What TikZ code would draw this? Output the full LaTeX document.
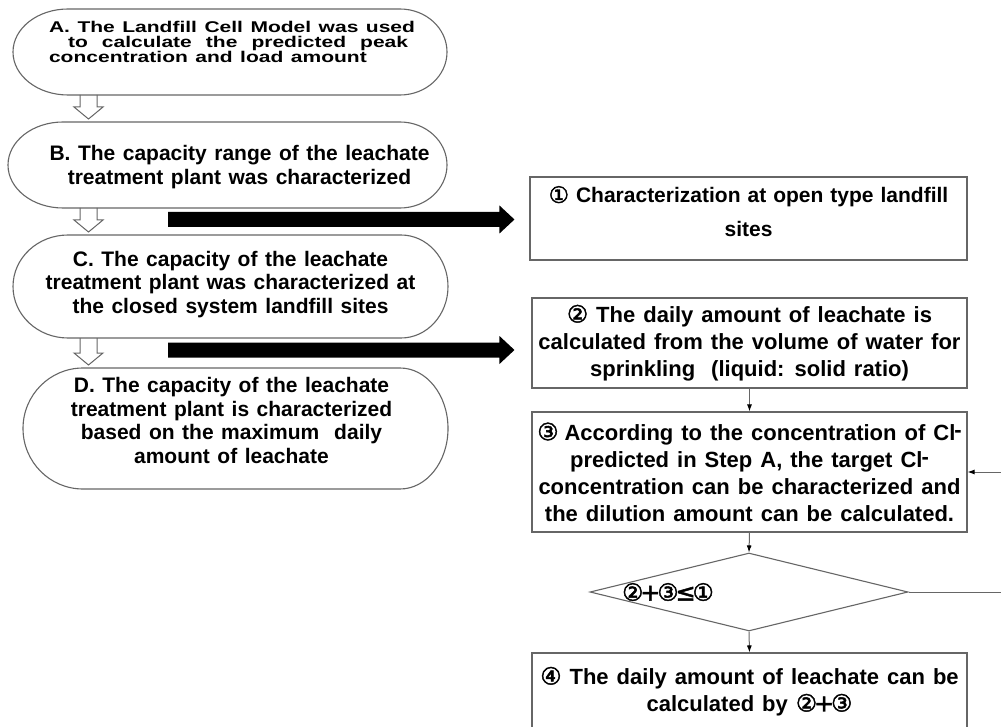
\documentclass[tikz,border=0pt]{standalone}
\usepackage{fontspec}
\usepackage{graphicx}
\setmainfont{Liberation Sans}
\newfontfamily\symfont{DejaVu Sans}[Scale=1.08,FakeBold=2]
\usetikzlibrary{arrows.meta,shapes.geometric,calc}
\newcommand\cn[1]{{\symfont\mdseries #1}}
\newcommand\clm{Cl\kern-1pt\raisebox{2.5pt}{-}}
\newcommand\lfont{\fontsize{21}{23.5}\selectfont\bfseries\spaceskip=7.5pt plus 3pt minus 1pt\relax}
\newcommand\rfont{\fontsize{22}{27}\selectfont\bfseries\spaceskip=8pt plus 3pt minus 1pt\relax}
\newcommand\rfontsmall{\fontsize{21}{27}\selectfont\bfseries\spaceskip=7pt plus 3pt minus 1pt\relax}
\newcommand\ovalpath[4]{%
  \draw[ovalline] ([xshift=#2]#1.north west) -- ([xshift=-#3]#1.north east)
    arc[start angle=90,end angle=-90,x radius=#3,y radius=#4]
    -- ([xshift=#2]#1.south west)
    arc[start angle=270,end angle=90,x radius=#2,y radius=#4] -- cycle;}
\newcommand\hollowdown[3]{%
  \filldraw[hollow] let \p1=(#1.south -| #3), \p2=(#2.north -| #3) in
   (\x1-8.5pt,\y1) -- (\x1-8.5pt,\y2+15pt) -- (\x1-14.5pt,\y2+15pt) -- (\x1,\y2+3pt)
   -- (\x1+14.5pt,\y2+15pt) -- (\x1+8.5pt,\y2+15pt) -- (\x1+8.5pt,\y1);}
\newcommand\bigarrow[2]{%
  \fill[black] let \p1=(#1), \p2=(#2) in
   (\x1,\y1+7.5pt) -- (\x2-15pt,\y1+7.5pt) -- (\x2-15pt,\y1+14pt) -- (\x2,\y1)
   -- (\x2-15pt,\y1-14pt) -- (\x2-15pt,\y1-7.5pt) -- (\x1,\y1-7.5pt) -- cycle;}
\tikzset{
  ovalline/.style={draw=black!60, line width=1.1pt},
  ovalnode/.style={rectangle, draw=none, inner sep=0pt, outer sep=0pt},
  ovtext/.style={align=center, inner sep=0pt, font=\lfont},
  hollow/.style={draw=black!60, fill=white, line width=1pt},
  boxstyle/.style={rectangle, draw=black!60, line width=1.1pt, inner sep=0pt,
    align=center, font=\rfont, minimum width=435pt},
  decision/.style={diamond, draw=black!60, line width=1.1pt, inner sep=0pt,
    minimum width=318pt, minimum height=78pt},
  conn/.style={draw=black!60, line width=1pt, -{Latex[length=7pt,width=5pt,color=black]}},
}
\begin{document}
\begin{tikzpicture}[x=1pt,y=-1pt]
\useasboundingbox (0,0) rectangle (1001,727);
\clip (0,0) rectangle (1001,727);
\fill[white] (0,0) rectangle (1001,727);

% left oval nodes
\node[ovalnode, minimum width=434pt, minimum height=86pt] (A) at (230,52) {};
\node[ovalnode, minimum width=439pt, minimum height=86pt] (B) at (227.5,165) {};
\node[ovalnode, minimum width=435pt, minimum height=103pt] (C) at (230.5,286.5) {};
\node[ovalnode, minimum width=425pt, minimum height=121pt] (D) at (235.5,428.5) {};
\coordinate (hx) at (88.5,0);

\hollowdown{A}{B}{hx}
\hollowdown{B}{C}{hx}
\hollowdown{C}{D}{hx}

\ovalpath{A}{55pt}{47pt}{43pt}
\ovalpath{B}{55pt}{47pt}{43pt}
\ovalpath{C}{55pt}{47pt}{51.5pt}
\ovalpath{D}{60pt}{48pt}{60.5pt}

\node[ovtext] (At) at ([xshift=2pt,yshift=8pt]A.center)
  {\scalebox{1}[0.74]{\def\arraystretch{0.74}\begin{tabular}{@{}l@{}}
   A. The Landfill Cell Model was used\\
   \hspace*{19pt}\makebox[340pt][s]{to calculate the predicted peak}\\
   concentration and load amount\end{tabular}}};
\node[ovtext] (Bt) at ([xshift=12pt,yshift=-2pt]B.center)
  {B. The capacity range of the leachate\\treatment plant was characterized};
\node[ovtext] (Ct) at ([yshift=2pt]C.center)
  {C. The capacity of the leachate\\treatment plant was characterized at\\the closed system landfill sites};
\node[ovtext] (Dt) at ([xshift=-4pt,yshift=8pt]D.center)
  {D. The capacity of the leachate\\treatment plant is characterized\\based on the maximum\ \ daily\\amount of leachate};

% right boxes
\node[boxstyle, font=\rfontsmall, minimum width=437pt, minimum height=83pt] (box1) at (748.5,218.5)
  {\cn{①}\ Characterization at open type landfill\\[7pt]sites\rule[-14pt]{0pt}{0pt}};
\node[boxstyle, minimum height=90pt] (box2) at (749.5,343)
  {\cn{②} The daily amount of leachate is\\calculated from the volume of water for\\sprinkling\ \ (liquid: solid ratio)};
\node[boxstyle, minimum height=120pt] (box3) at (749.5,472)
  {\cn{③}\kern-2pt\ According to the concentration of \clm\\predicted in Step A, the target \clm\\concentration can be characterized and\\the dilution amount can be calculated.};
\node[decision] (dia) at (749,592) {};
\node[font=\rfont, inner sep=0pt] (dt) at ([xshift=-81pt]dia.center)
  {\cn{②\kern-3pt+\kern-3pt③\kern-3pt≤\kern-3pt①}};
\node[boxstyle, minimum height=77pt] (box4) at (749.5,691.5)
  {\cn{④} The daily amount of leachate can be\\calculated by \cn{②\kern-3pt+\kern-3pt③}};

% big black arrows
\coordinate (s1) at (168,219.5);
\coordinate (e1) at ($(box1.west |- s1)+(-15,0)$);
\coordinate (s2) at (168,350);
\coordinate (e2) at ($(box2.west |- s2)+(-17,0)$);
\bigarrow{s1}{e1}
\bigarrow{s2}{e2}

% connectors
\draw[conn] (box2.south) -- (box3.north);
\draw[conn] (box3.south) -- (dia.north);
\draw[conn] (dia.south) -- (box4.north);
\draw[conn] (dia.east) -- ++(110,0) |- (box3.east);
\end{tikzpicture}
\end{document}
